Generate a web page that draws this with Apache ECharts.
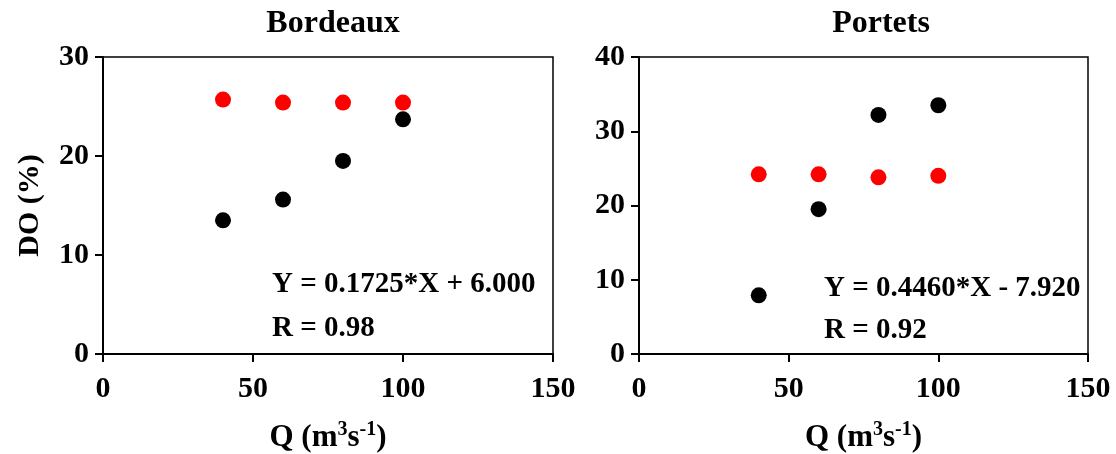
<!DOCTYPE html>
<html>
<head>
<meta charset="utf-8">
<script src="https://cdn.jsdelivr.net/npm/echarts@6/dist/echarts.min.js"></script>
<style>html,body{margin:0;padding:0;background:#fff}#c{width:1116px;height:454px}</style>
</head>
<body>
<div id="c"></div>
<script>
const panelTitles = ['Bordeaux', 'Portets'];
const qValues = [40, 60, 80, 100];
const bordeauxBlack = [13.5, 15.6, 19.5, 23.7];
const bordeauxRed = [25.7, 25.4, 25.4, 25.4];
const portetsBlack = [7.9, 19.5, 32.2, 33.5];
const portetsRed = [24.2, 24.2, 23.8, 24.0];
const yMaxes = [30, 40];
const eqTexts = ['Y = 0.1725*X + 6.000', 'Y = 0.4460*X - 7.920'];
const rTexts = ['R = 0.98', 'R = 0.92'];

const FONT = 'Liberation Serif';
const FS = 30;
const pair = (xs, ys) => xs.map((x, i) => [x, ys[i]]);

const grids = [
  {left: 103, right: 563, top: 57, bottom: 100},
  {left: 639, right: 28, top: 57, bottom: 100}
];

const chart = echarts.init(document.getElementById('c'), null, {renderer: 'canvas'});

const xAxes = grids.map((g, i) => ({
  type: 'value', gridIndex: i, min: 0, max: 150, interval: 50,
  name: 'Q (m{sup|3}s{sup|-1})', nameLocation: 'middle', nameGap: 66,
  nameTextStyle: {
    fontFamily: FONT, fontWeight: 'bold', fontSize: 31, color: '#000',
    rich: {
      sup: {fontFamily: FONT, fontWeight: 'bold', fontSize: 20, color: '#000', verticalAlign: 'top', padding: [0, 0, 15, 0]}
    }
  },
  axisLine: {show: true, onZero: false, lineStyle: {color: '#000', width: 2}},
  axisTick: {show: true, length: 8, lineStyle: {color: '#000', width: 2}},
  axisLabel: {fontFamily: FONT, fontWeight: 'bold', fontSize: FS, color: '#000', margin: 20},
  splitLine: {show: false}
}));

const yAxes = grids.map((g, i) => ({
  type: 'value', gridIndex: i, min: 0, max: yMaxes[i], interval: 10,
  name: i === 0 ? 'DO (%)' : '', nameLocation: 'middle', nameGap: 58,
  nameTextStyle: {fontFamily: FONT, fontWeight: 'bold', fontSize: 30, color: '#000'},
  axisLine: {show: true, onZero: false, lineStyle: {color: '#000', width: 2}},
  axisTick: {show: true, length: 8, lineStyle: {color: '#000', width: 2}},
  axisLabel: {fontFamily: FONT, fontWeight: 'bold', fontSize: FS, color: '#000', margin: 14},
  splitLine: {show: false}
}));

const blackSets = [bordeauxBlack, portetsBlack];
const redSets = [bordeauxRed, portetsRed];
const series = [];
grids.forEach((g, i) => {
  series.push({type: 'scatter', xAxisIndex: i, yAxisIndex: i, symbolSize: 16,
    itemStyle: {color: '#ff0000', opacity: 1}, data: pair(qValues, redSets[i])});
  series.push({type: 'scatter', xAxisIndex: i, yAxisIndex: i, symbolSize: 16,
    itemStyle: {color: '#000000', opacity: 1}, data: pair(qValues, blackSets[i])});
});

const titleX = [328, 876];
const eqPos = [[272, 287], [824, 291]];
const rPos = [[272, 331], [824, 333]];

const graphics = [];
for (let i = 0; i < 2; i++) {
  graphics.push({type: 'text', left: eqPos[i][0], top: eqPos[i][1] - 17,
    style: {text: eqTexts[i], font: 'bold 29px "' + FONT + '"', fill: '#000'}});
  graphics.push({type: 'text', left: rPos[i][0], top: rPos[i][1] - 17,
    style: {text: rTexts[i], font: 'bold 29px "' + FONT + '"', fill: '#000'}});
}

chart.setOption({
  animation: false,
  backgroundColor: '#fff',
  title: panelTitles.map((t, i) => ({
    text: t, left: titleX[i], top: 3, textAlign: 'center',
    textStyle: {fontFamily: FONT, fontWeight: 'bold', fontSize: 32, color: '#000'}
  })),
  grid: grids.map(g => Object.assign({show: true, borderColor: '#000', borderWidth: 1.5, backgroundColor: 'transparent', containLabel: false, outerBoundsMode: 'none'}, g)),
  xAxis: xAxes,
  yAxis: yAxes,
  series: series,
  graphic: graphics
});
</script>
</body>
</html>
